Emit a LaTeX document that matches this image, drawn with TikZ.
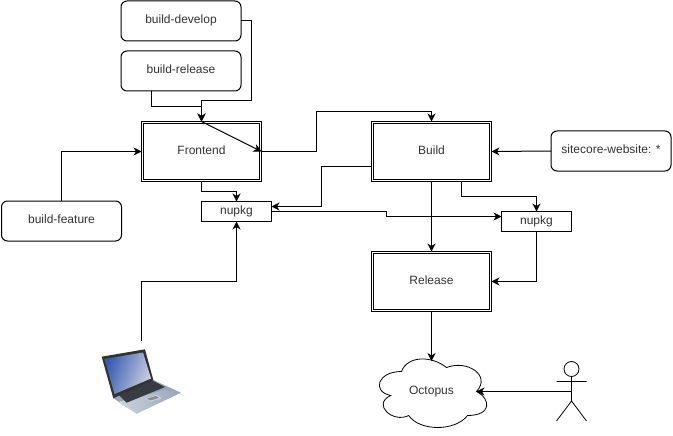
\documentclass[tikz,border=0pt]{standalone}
\usepackage{fontspec}
\setmainfont{Liberation Sans}
\usetikzlibrary{arrows.meta,calc}
\definecolor{scrblue}{RGB}{52,92,178}
\definecolor{scrgrey}{RGB}{205,208,220}
\definecolor{basegrey}{RGB}{150,165,185}
\definecolor{baselight}{RGB}{205,212,222}
\definecolor{keydark}{RGB}{55,60,65}
\tikzset{
  lbl/.style={font=\fontsize{12}{14}\selectfont,text=black!80,inner sep=0pt,text height=9pt,text depth=3.4pt},
  roundbox/.style={lbl,draw,rounded corners=6,minimum width=120,minimum height=40,outer sep=0pt},
  dblbox/.style={lbl,draw,double,double distance=1,minimum width=118,minimum height=58,outer sep=1pt},
  plainbox/.style={lbl,draw,minimum width=70,minimum height=20,outer sep=0pt},
  conn/.style={-{Stealth[length=8,width=8,inset=2.5]},line width=1pt},
}
\begin{document}
\begin{tikzpicture}[x=1pt,y=-1pt,line width=1pt,line join=miter]
\useasboundingbox[fill=white] (0,0) rectangle (673,436);
% boxes
\node[roundbox] (dev) at (181,21) {build-develop};
\node[roundbox] (rel) at (181,71) {build-release};
\node[roundbox] (feat) at (61.5,221) {build-feature};
\node[roundbox] (site) at (611,151) {sitecore-website: *};
\node[dblbox] (fe) at (201.5,151.5) {Frontend};
\node[dblbox] (bu) at (431.5,151.5) {Build};
\node[dblbox] (re) at (431.5,281.5) {Release};
\node[plainbox] (n1) at (236.5,211.5) {nupkg};
\node[plainbox] (n2) at (536.5,221.5) {nupkg};
% cloud
\begin{scope}[shift={(371.5,351.5)},x=120pt,y=-80pt]
\draw[line width=0.8pt] (0.25,0.25) .. controls (0.05,0.25) and (0,0.5) .. (0.16,0.55)
  .. controls (0,0.66) and (0.18,0.9) .. (0.31,0.8)
  .. controls (0.4,1) and (0.7,1) .. (0.8,0.8)
  .. controls (1,0.8) and (1,0.6) .. (0.875,0.5)
  .. controls (1,0.3) and (0.8,0.1) .. (0.625,0.2)
  .. controls (0.5,0.05) and (0.3,0.05) .. (0.25,0.25) -- cycle;
\end{scope}
\node[lbl] (oct) at (431.5,391.5) {Octopus};
\coordinate (cloudtop) at (431.5,361);
\coordinate (cloudright) at (476.5,391.5);
% actor
\coordinate (actor) at (571.5,391.5);
\draw[line width=0.8pt] (571.5,369) circle (7.5);
\draw[line width=0.8pt] (571.5,376.5) -- (571.5,401) (556.5,381.5) -- (586.5,381.5)
   (556.5,421) -- (571.5,401) -- (586.5,421);
% laptop
\coordinate (laptop) at (141.5,341);
\begin{scope}[line width=0pt]
\fill[basegrey] (113,398) -- (153.3,380) -- (180.7,392.7) -- (136.7,413.5) -- cycle;
\shade[left color=baselight,right color=basegrey] (118,402) -- (165,390) -- (180.7,392.7) -- (136.7,413.5) -- cycle;
\fill[keydark] (116.7,393) -- (151.7,380) -- (165,387) -- (126.7,402.7) -- cycle;
\fill[baselight] (145,398.3) -- (156.7,395) -- (161.7,398.3) -- (150,401.7) -- cycle;
\fill[black!45] (147,398.5) -- (156,396) -- (159,398) -- (150,400.5) -- cycle;
\fill[black!80] (101.7,356.7) -- (145,349.3) -- (153.3,380) -- (113.3,398.3) -- cycle;
\shade[left color=scrblue,right color=scrgrey,shading angle=70] (104.5,359) -- (143,352.5) -- (151,378.5) -- (114.5,394) -- cycle;
\end{scope}
% connectors
\draw[conn] (rel.south -| 151.5,0) |- (201.5,106.5) -- (fe.north);
\draw[conn] (dev.east) -| (251.5,101) -| (fe.north);
\draw[conn] (fe.north) -- (fe.east);
\draw[conn] (fe.east) -- (316.5,151.5) |- (431.5,111.5) -- (bu.north);
\draw[conn] (bu.west |- 0,166) -- (321.5,166) |- (n1.east |- 0,206.5);
\draw[conn] (n1.east |- 0,211.5) -- (386.5,211.5) -- (386.5,216.5) -- (n2.west |- 0,216.5);
\draw[conn] (fe.south) |- (236.5,191.5) -- (n1.north);
\draw[conn] (bu.south) -- (re.north);
\draw[conn] (bu.south -| 461.5,0) |- (536.5,196.5) -- (n2.north);
\draw[conn] (n2.south) |- (re.east);
\draw[conn] (site.west) -- (bu.east);
\draw[conn] (feat.north) |- (fe.west);
\draw[conn] (laptop) |- (236.5,281.5) -- (n1.south);
\draw[conn] (re.south) -- (cloudtop);
\draw[conn] (actor) -- (cloudright);
\end{tikzpicture}
\end{document}
